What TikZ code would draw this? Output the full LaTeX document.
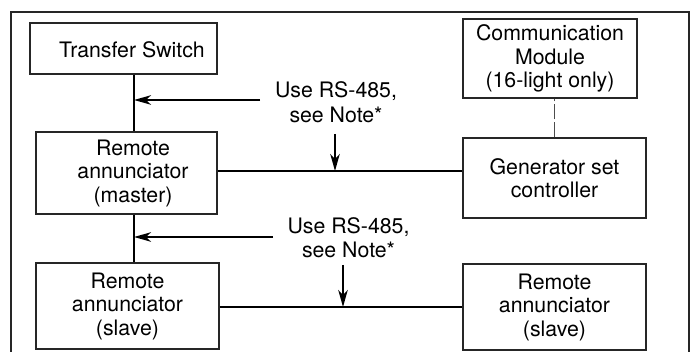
\documentclass[tikz,border=0pt]{standalone}
\usepackage{fontspec}
\setmainfont{TeX Gyre Heros}
\usetikzlibrary{arrows.meta}
\begin{document}
\begin{tikzpicture}[x=1pt,y=-1pt,
  box/.style={draw=black!85, line width=1.2pt, inner sep=0pt, align=center,
    font=\fontsize{21.3}{23.5}\selectfont},
  txt/.style={align=center, inner sep=0pt, font=\fontsize{21.3}{23.5}\selectfont},
  note/.style={align=center, inner sep=0pt, font=\fontsize{21.3}{24.5}\selectfont},
  wire/.style={line width=2pt},
  arr/.style={line width=1.8pt, -{Stealth[length=17pt,width=9.5pt,inset=5pt]}},
  dashwire/.style={line width=0.9pt, draw=black!70, dash pattern=on 15pt off 3pt},
  frame/.style={line width=1.2pt, draw=black!85}]
\useasboundingbox (0,0) rectangle (694,352);
\draw[frame] (11,12) rectangle (689,380);

% boxes
\node[box, minimum width=187pt, minimum height=51pt] (ts) at (123.5,48.5) {};
\node[txt] (tstext) at (132,49.5) {Transfer Switch};
\node[box, minimum width=174pt, minimum height=79pt] (cm) at (550,58.5)
  {Communication\\Module\\(16-light only)};
\node[box, minimum width=181pt, minimum height=82pt] (ram) at (126.5,173) {};
\node[txt] (ramtext) at (133,173) {Remote\\annunciator\\(master)};
\node[box, minimum width=183pt, minimum height=80pt] (gs) at (554.5,178)
  {Generator set\\controller};
\node[box, minimum width=183pt, minimum height=86pt] (ras1) at (127.5,306)
  {Remote\\annunciator\\(slave)};
\node[box, minimum width=183pt, minimum height=86pt] (ras2) at (554.5,307)
  {Remote\\annunciator\\(slave)};

% notes
\node[note] (n1) at (336,102) {Use RS-485,\\see Note*};
\node[note] (n2) at (348.5,237.5) {Use RS-485,\\see Note*};

% helper coordinates
\coordinate (bus) at (134,0);
\coordinate (h1) at (0,171);
\coordinate (h2) at (0,307);
\coordinate (a1) at (260,100);
\coordinate (a2) at (273,237);
\coordinate (d1) at (335,134);
\coordinate (d2) at (343,265);

% wires
\draw[wire] (ts.south -| bus) -- (ram.north -| bus);
\draw[wire] (ram.south -| bus) -- (ras1.north -| bus);
\draw[wire] (ram.east |- h1) -- (gs.west |- h1);
\draw[wire] (ras1.east |- h2) -- (ras2.west |- h2);
\draw[dashwire] (gs.north) -- (gs.north |- cm.south);

% arrows
\draw[arr] (a1) -- (a1 -| bus);
\draw[arr] (a2) -- (a2 -| bus);
\draw[arr, line width=1.5pt] (d1) -- (d1 |- h1);
\draw[arr, line width=1.5pt] (d2) -- (d2 |- h2);
\end{tikzpicture}
\end{document}
